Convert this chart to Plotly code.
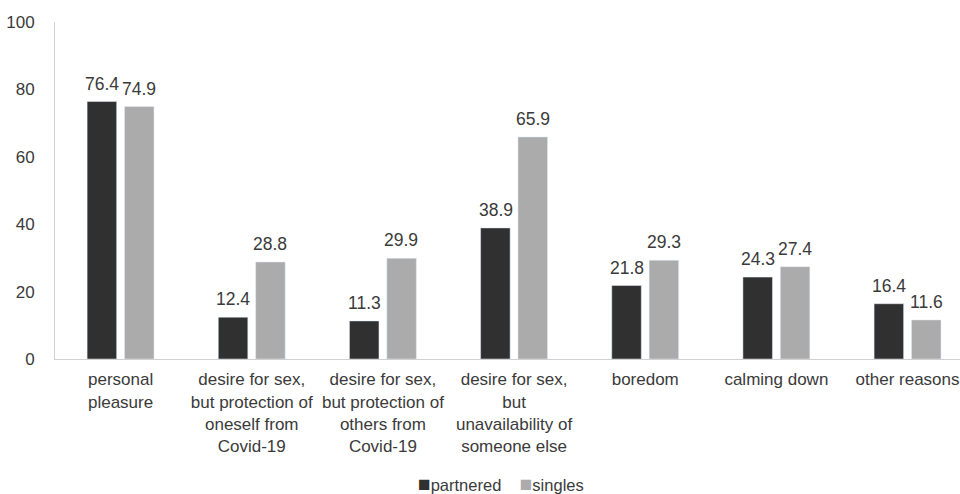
import plotly.graph_objects as go

categories = [
    "personal<br>pleasure",
    "desire for sex,<br>but protection of<br>oneself from<br>Covid-19",
    "desire for sex,<br>but protection of<br>others from<br>Covid-19",
    "desire for sex,<br>but<br>unavailability of<br>someone else",
    "boredom",
    "calming down",
    "other reasons",
]
partnered = [76.4, 12.4, 11.3, 38.9, 21.8, 24.3, 16.4]
singles = [74.9, 28.8, 29.9, 65.9, 29.3, 27.4, 11.6]
series_names = ["partnered", "singles"]
series_colors = ["#303030", "#ababab"]

FONT = "Liberation Sans, Arial, sans-serif"
TXT = "#3a3a3a"

fig = go.Figure()
for name, vals, col in zip(series_names, [partnered, singles], series_colors):
    fig.add_bar(x=categories, y=vals, name=name, marker_color=col, showlegend=False)

# value labels above bars
annotations = []
for vals, dx in zip([partnered, singles], [-18.5, 18.5]):
    for c, v in zip(categories, vals):
        annotations.append(dict(x=c, y=v, xref="x", yref="y", text=f"{v:.1f}",
                                showarrow=False, yanchor="bottom", xanchor="center",
                                xshift=dx, yshift=6,
                                font=dict(size=17.5, color=TXT, family=FONT)))

# legend as text
legend_text = "    ".join(
    f"<span style='color:{col};font-size:21px'>■</span>{name}"
    for name, col in zip(series_names, series_colors)
)
annotations.append(dict(x=0.493, y=-0.37, xref="paper", yref="paper", text=legend_text,
                        showarrow=False, xanchor="center", yanchor="middle",
                        font=dict(size=16.5, color=TXT, family=FONT)))

fig.update_layout(
    width=960, height=494,
    margin=dict(l=55, r=0, t=22, b=135),
    paper_bgcolor="white", plot_bgcolor="white",
    barmode="group", bargap=0.43, bargroupgap=0.21,
    font=dict(family=FONT, size=17, color=TXT),
    showlegend=False,
    annotations=annotations,
    xaxis=dict(range=[-0.5, 6.4], showgrid=False, showline=True, linecolor="#d0d0d0",
               linewidth=1, ticks="", tickfont=dict(size=17, color=TXT),
               ticklabelstandoff=5),
    yaxis=dict(range=[0, 100], dtick=20, showgrid=False, showline=True, linecolor="#d0d0d0",
               linewidth=1, ticks="", tickfont=dict(size=17, color=TXT),
               ticklabelstandoff=16, zeroline=False),
)

fig.write_html("out.html")
